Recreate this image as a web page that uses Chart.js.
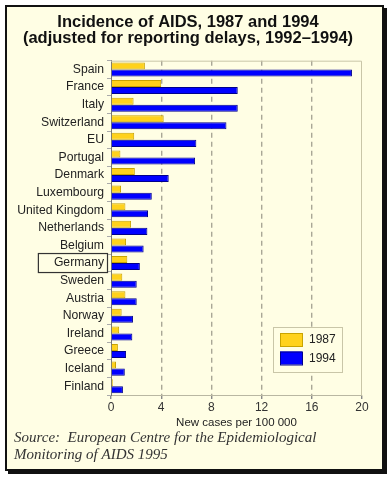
<!DOCTYPE html>
<html>
<head>
<meta charset="utf-8">
<script src="https://cdn.jsdelivr.net/npm/chart.js@4.4.0/dist/chart.umd.min.js"></script>
<style>
  html, body { margin: 0; padding: 0; background: #fff; }
  #frame {
    position: absolute; left: 5px; top: 5px;
    width: 375px; height: 462px;
    border: 2px solid #111;
    box-shadow: 3px 3px 0 #111;
    background: #fffee4;
  }
  #c { position: absolute; left: 0; top: 0; }
</style>
</head>
<body>
<div id="frame"></div>
<canvas id="c" width="391" height="479"></canvas>
<script>
// data
var countries = ['Spain', 'France', 'Italy', 'Switzerland', 'EU', 'Portugal', 'Denmark',
  'Luxembourg', 'United Kingdom', 'Netherlands', 'Belgium', 'Germany', 'Sweden',
  'Austria', 'Norway', 'Ireland', 'Greece', 'Iceland', 'Finland'];
var cases1987 = [2.7, 4.0, 1.8, 4.2, 1.85, 0.75, 1.9, 0.8, 1.15, 1.6, 1.2, 1.3, 0.9,
  1.15, 0.85, 0.65, 0.55, 0.4, 0.15];
var cases1994 = [19.2, 10.1, 10.1, 9.2, 6.8, 6.7, 4.6, 3.25, 2.95, 2.9, 2.6, 2.3, 2.05,
  2.05, 1.75, 1.7, 1.2, 1.1, 0.95];
var xTicks = [0, 4, 8, 12, 16, 20];
var highlighted = 'Germany';

var sans = '"Liberation Sans", Arial, sans-serif';
var labelFont = '12.2px ' + sans;

// plot frame, boxed label and legend
var decor = {
  id: 'decor',
  beforeDatasetsDraw: function(chart) {
    var ctx = chart.ctx, a = chart.chartArea;
    ctx.save();
    ctx.strokeStyle = '#c9c6a8';
    ctx.lineWidth = 1;
    ctx.beginPath();
    ctx.moveTo(a.left, a.top + 0.5);
    ctx.lineTo(a.right - 0.5, a.top + 0.5);
    ctx.lineTo(a.right - 0.5, a.bottom);
    ctx.stroke();
    ctx.restore();
  },
  afterDraw: function(chart) {
    var ctx = chart.ctx, y = chart.scales.y;
    ctx.save();
    // box round one label
    var i = countries.indexOf(highlighted);
    var py = y.getPixelForValue(i);
    ctx.font = labelFont;
    var w = ctx.measureText(highlighted).width;
    ctx.strokeStyle = '#333';
    ctx.lineWidth = 1.2;
    ctx.strokeRect(y.right - 7 - w - 15.5, py - 9.5, w + 19, 19);

    // legend
    var lx = 273, ly = 327;
    ctx.fillStyle = '#fffee4';
    ctx.fillRect(lx, ly, 69, 45);
    ctx.strokeStyle = '#c9c6a8';
    ctx.lineWidth = 1;
    ctx.strokeRect(lx + 0.5, ly + 0.5, 69, 45);
    chart.data.datasets.forEach(function(ds, k) {
      var sy = ly + 6 + k * 18.5;
      ctx.fillStyle = ds.backgroundColor;
      ctx.fillRect(lx + 7, sy, 22, 13);
      ctx.strokeStyle = ds.borderColor;
      ctx.strokeRect(lx + 7.5, sy + 0.5, 22, 13);
      ctx.fillStyle = '#222';
      ctx.font = '12px ' + sans;
      ctx.textBaseline = 'middle';
      ctx.textAlign = 'left';
      ctx.fillText(ds.label, lx + 36, sy + 7);
    });
    ctx.restore();
  }
};

new Chart(document.getElementById('c'), {
  type: 'bar',
  data: {
    labels: countries,
    datasets: [
      { label: '1987', data: cases1987, backgroundColor: '#ffd21c', borderColor: '#c9a400', borderWidth: 1 },
      { label: '1994', data: cases1994, backgroundColor: '#0000ff', borderColor: '#00008c', borderWidth: 1 }
    ]
  },
  options: {
    indexAxis: 'y',
    responsive: false,
    animation: false,
    layout: { padding: { left: 14, right: 29, top: 0, bottom: 0 } },
    datasets: { bar: { categoryPercentage: 0.8, barPercentage: 1.0 } },
    plugins: {
      legend: { display: false },
      tooltip: { enabled: false },
      title: {
        display: true,
        text: ['Incidence of AIDS, 1987 and 1994', '(adjusted for reporting delays, 1992\u20131994)'],
        color: '#111',
        font: { family: sans, size: 16.5, weight: 'bold', lineHeight: 0.96 },
        padding: { top: 15, bottom: 14 }
      },
      subtitle: {
        display: true,
        position: 'bottom',
        align: 'start',
        text: ['Source:  European Centre for the Epidemiological', 'Monitoring of AIDS 1995'],
        color: '#333',
        font: { family: '"Liberation Serif", "Times New Roman", serif', style: 'italic', size: 15, lineHeight: 1.1 },
        padding: { top: 0, bottom: 16 }
      }
    },
    scales: {
      x: {
        min: 0, max: 20,
        afterBuildTicks: function(s) { s.ticks = xTicks.map(function(v) { return { value: v }; }); },
        afterFit: function(s) { s.height = 35; },
        ticks: { color: '#333', font: { family: sans, size: 12 }, padding: 1, maxRotation: 0 },
        grid: {
          color: function(c) { return (c.tick && (c.tick.value === 0 || c.tick.value === 20)) ? 'rgba(0,0,0,0)' : '#a9a796'; },
          lineWidth: 1.4,
          tickLength: 4,
          tickColor: '#888'
        },
        border: { color: '#b9b7a2', width: 1, dash: [5, 4] },
        title: {
          display: true,
          text: 'New cases per 100 000',
          color: '#222',
          font: { family: sans, size: 11.5 },
          padding: { top: 0, bottom: 0 }
        }
      },
      y: {
        afterFit: function(s) { s.width = 97; },
        ticks: { color: '#222', font: { family: sans, size: 12.2 }, padding: 3, autoSkip: false },
        grid: { drawOnChartArea: false, tickLength: 4, tickColor: '#aaa' },
        border: { color: '#777', width: 1 }
      }
    }
  },
  plugins: [decor]
});
</script>
</body>
</html>
